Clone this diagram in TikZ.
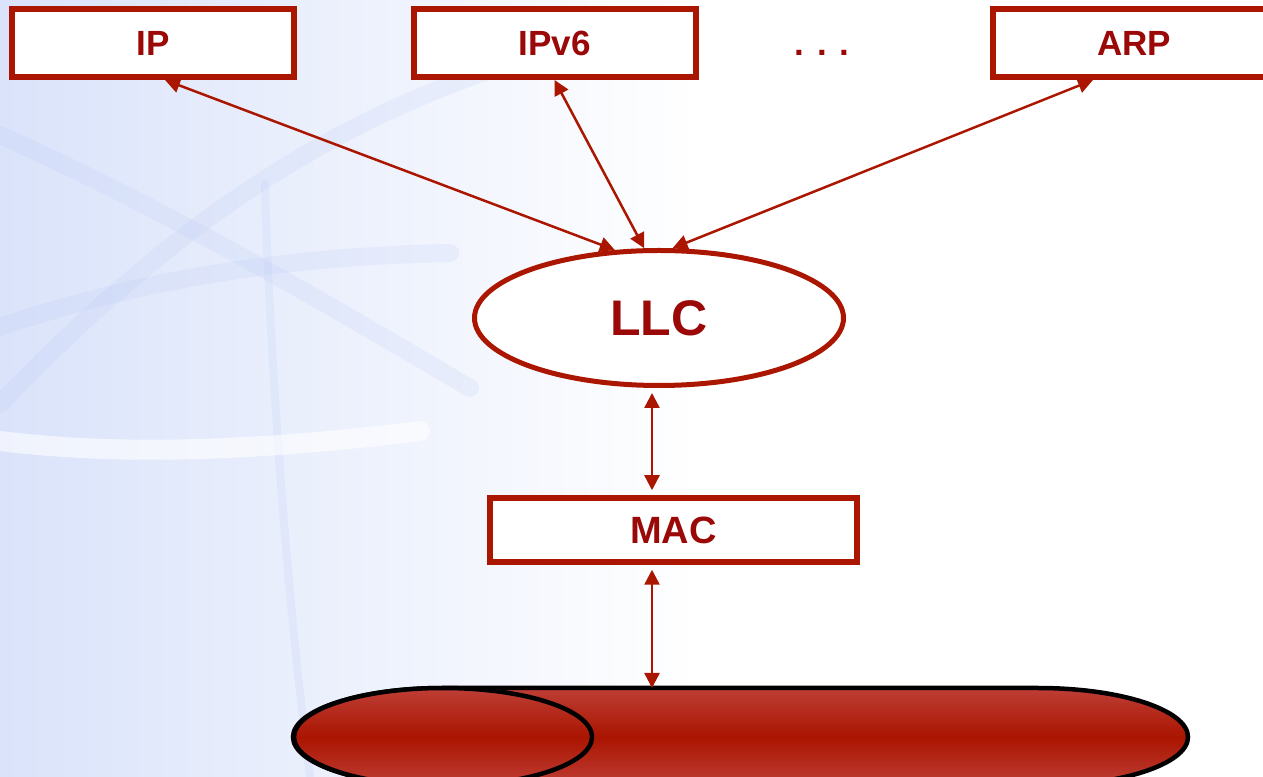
\documentclass[tikz,border=0pt]{standalone}
\usepackage{fontspec}
\setmainfont{Liberation Sans}
\usetikzlibrary{shapes.geometric,arrows.meta}
\definecolor{layerred}{RGB}{170,22,0}
\definecolor{textred}{RGB}{155,8,8}
\definecolor{busred}{RGB}{170,21,0}
\definecolor{buslight}{RGB}{190,62,54}
\definecolor{bgblue}{RGB}{218,227,250}
\definecolor{hazeblue}{RGB}{185,200,245}

\begin{document}
\begin{tikzpicture}[x=0.5pt,y=0.5pt,
    layer/.style={draw=layerred,line width=3pt,fill=white,minimum width=141pt,minimum height=34pt,inner sep=0pt,
      font=\fontsize{17.5}{20}\selectfont\bfseries,text=textred},
    link/.style={layerred,line width=1.25pt,{Triangle[length=7.5pt,width=7.5pt]}-{Triangle[length=7.5pt,width=7.5pt]}},
    haze/.style={hazeblue,line width=9pt,opacity=0.18,line cap=round}]
                      \useasboundingbox (0,0) rectangle (1263,776);
                      % background
                      \shade[left color=bgblue,right color=white] (0,0) rectangle (700,776);
                      \draw[haze] (0,372) .. controls (180,560) and (330,650) .. (490,706);
                      \draw[haze] (0,641) .. controls (180,560) and (330,470) .. (470,388);
                      \draw[haze] (0,449) .. controls (150,500) and (300,520) .. (450,523);
                      \draw[haze,line width=4pt] (265,592) .. controls (270,400) and (290,150) .. (310,0);
                      \draw[white,line width=10pt,opacity=0.6,line cap=round] (0,335) .. controls (120,320) and (260,325) .. (420,345);
                      % layers
                      \node[layer](ip)at(153,733){IP};
                      \node[layer](ipv6)at(554.5,733){IPv6};
                      \node[layer](arp)at(1134,733){ARP};
                      \node[font=\fontsize{17.5}{20}\selectfont\bfseries,text=textred](dots)at(822,723){. . .};
                      \node[ellipse,draw=layerred,line width=2.5pt,fill=white,minimum width=184.5pt,minimum height=67.5pt,inner sep=0pt,
                        font=\fontsize{25}{28}\selectfont\bfseries,text=textred](llc)at(659,458){LLC};
                      \node[layer,minimum width=183.5pt,minimum height=32pt,line width=2.75pt,
                        font=\fontsize{19}{22}\selectfont\bfseries](mac)at(673.5,246){MAC};
                      % medium
                      \shade[top color=buslight,bottom color=buslight,middle color=busred,draw=black,line width=2.25pt]
                        (443,88) -- (1038,88) arc[start angle=90,end angle=-90,x radius=150,y radius=49]
                        -- (443,-10) arc[start angle=270,end angle=90,x radius=150,y radius=49] -- cycle;
                      \shade[top color=buslight,bottom color=buslight,middle color=busred,draw=black,line width=2.25pt]
                        (443,39) ellipse[x radius=149,y radius=49];
                      \coordinate(bus)at(652,88);
                      % links
                      \draw[link]([xshift=6pt]ip.south)--(llc.123);
                      \draw[link](ipv6.south)--(llc.102);
                      \draw[link]([xshift=-20.5pt]arp.south)--(llc.79);
                      \draw[link,shorten <=2.5pt,shorten >=2.5pt](llc.south -| bus)--(mac.north -| bus);
                      \draw[link,shorten <=2.5pt](mac.south -| bus)--(bus);
                  \end{tikzpicture}
\end{document}
